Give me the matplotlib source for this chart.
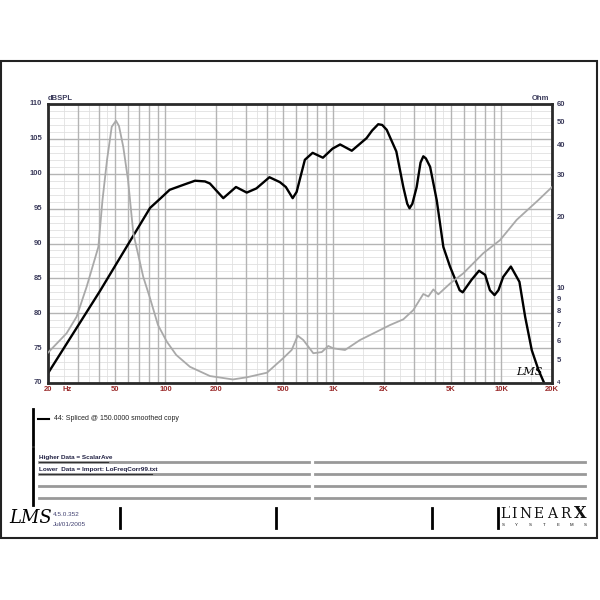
import matplotlib
matplotlib.use("Agg")
import matplotlib.pyplot as plt
from matplotlib.lines import Line2D
from matplotlib.patches import Rectangle
import numpy as np

# ---------------- data ----------------
spl_freq = [20, 40.8, 81, 92.8, 106, 131, 150, 172, 184, 221, 263, 305, 348, 416, 480, 521,
            572, 604, 676, 752, 866, 988, 1096, 1286, 1574, 1700, 1848, 1950, 2076, 2368, 2606,
            2750, 2838, 2950, 3130, 3300, 3428, 3550, 3762, 4120, 4512, 4940, 5640, 5880, 6640,
            7360, 8000, 8540, 9100, 9600, 10240, 11380, 12800, 13840, 15160, 16600, 17960, 18800]
spl_db = [71.4, 83.2, 95.1, 96.4, 97.7, 98.5, 99.0, 98.9, 98.6, 96.5, 98.1, 97.3, 97.9, 99.5,
          98.8, 98.1, 96.5, 97.4, 102.0, 103.0, 102.3, 103.6, 104.2, 103.3, 105.1, 106.2, 107.1,
          107.0, 106.3, 103.2, 98.1, 95.7, 95.05, 95.7, 98.1, 101.6, 102.5, 102.2, 101.0, 96.2,
          89.5, 86.7, 83.3, 83.0, 84.8, 86.1, 85.5, 83.3, 82.6, 83.3, 85.2, 86.7, 84.5, 79.5,
          74.7, 71.9, 70.0, 68.5]

imp_freq = [20, 25.8, 29.6, 34.0, 39.9, 42.2, 44.9, 47.9, 50.8, 52.9, 56.1, 59.9, 64.4, 73.8,
            80.9, 90.3, 102, 116, 140, 184, 252, 306, 402, 501, 564, 613, 662, 759, 852, 932,
            998, 1172, 1439, 1810, 2172, 2606, 2989, 3428, 3671, 3932, 4211, 4942, 5932, 7800,
            9806, 12332, 16572, 20000]
imp_ohm = [5.37, 6.48, 7.61, 10.2, 15.0, 23.6, 34.8, 48.1, 51.0, 48.5, 39.6, 28.7, 17.1, 11.2,
           9.13, 7.02, 5.97, 5.25, 4.68, 4.28, 4.14, 4.23, 4.42, 5.08, 5.51, 6.33, 6.07, 5.34,
           5.40, 5.73, 5.60, 5.51, 6.07, 6.58, 7.02, 7.42, 8.12, 9.49, 9.26, 9.92, 9.46, 10.5,
           11.6, 14.1, 16.0, 19.5, 23.6, 26.8]

x_ticks = [20, 50, 100, 200, 500, 1000, 2000, 5000, 10000, 20000]
x_labels = ["20", "50", "100", "200", "500", "1K", "2K", "5K", "10K", "20K"]
db_ticks = [70, 75, 80, 85, 90, 95, 100, 105, 110]
ohm_ticks = [4, 5, 6, 7, 8, 9, 10, 20, 30, 40, 50, 60]

# ---------------- figure ----------------
W = H = 600
fig = plt.figure(figsize=(6, 6), dpi=100)
fig.patch.set_facecolor("white")
plt.rcParams['font.family'] = ['Liberation Sans', 'DejaVu Sans']

def fx(x):
    return x / W

def fy(y):
    return 1 - y / H

L, R, T, B = 48, 552, 104, 383
ax = fig.add_axes([fx(L), fy(B), (R - L) / W, (B - T) / H])
ax.set_xscale("log")
ax.set_xlim(20, 20000)
ax.set_ylim(70, 110)
ax.set_facecolor("white")

# grid
major_v = []
minor_v = []
for dec in [10, 100, 1000, 10000]:
    for k in range(1, 10):
        f = k * dec
        if 20 <= f <= 20000:
            major_v.append(f)
    for k in [1.5, 2.5, 3.5, 4.5]:
        f = k * dec
        if 20 < f < 20000:
            minor_v.append(f)
for f in minor_v:
    ax.axvline(f, color="#e2e2e2", lw=0.6, zorder=0)
for f in major_v:
    ax.axvline(f, color="#b4b4b4", lw=1.0, zorder=0.5)
for d in range(70, 111):
    if d % 5:
        ax.axhline(d, color="#e0e0e0", lw=0.6, zorder=0)
    else:
        ax.axhline(d, color="#b4b4b4", lw=1.0, zorder=0.5)

ax.set_xticks([])
ax.set_yticks([])
ax.minorticks_off()
for s in ax.spines.values():
    s.set_linewidth(2.0)
    s.set_color("#2a2a2a")
    s.set_zorder(5)

ax2 = ax.twinx()
ax2.set_yscale("log")
ax2.set_ylim(4, 60)
ax2.set_yticks([])
ax2.minorticks_off()
ax2.set_yticks([], minor=True)
for s in ax2.spines.values():
    s.set_visible(False)

ax2.plot(imp_freq, imp_ohm, color="#a9a9a9", lw=1.3, zorder=3, clip_on=True,
         solid_joinstyle="round")
ax.plot(spl_freq, spl_db, color="black", lw=1.7, zorder=4, clip_on=True,
        solid_joinstyle="round")

# tick labels (as text using axis transforms)
tcol_x = "#9a2a2a"
tcol_y = "#3c3c5c"
for f, lab in zip(x_ticks, x_labels):
    ax.text(f, -0.025, lab, transform=ax.get_xaxis_transform(), ha="center", va="center",
            fontsize=5.5, color=tcol_x, fontweight="bold")
ax.text(24.5, -0.025, "Hz", transform=ax.get_xaxis_transform(), ha="left", va="center",
        fontsize=5.5, color=tcol_x, fontweight="bold")
for d in db_ticks:
    ax.text(-0.012, d, str(d), transform=ax.get_yaxis_transform(), ha="right", va="center",
            fontsize=5.5, color=tcol_y, fontweight="bold")
for o in ohm_ticks:
    fs = 4.5 if o == 4 else 5.5
    ax2.text(1.01, o, str(o), transform=ax2.get_yaxis_transform(), ha="left", va="center",
             fontsize=fs, color=tcol_y, fontweight="bold")
fig.text(fx(48), fy(98), "dBSPL", ha="left", va="center", fontsize=5.5, color=tcol_y,
         fontweight="bold")
fig.text(fx(549), fy(98), "Ohm", ha="right", va="center", fontsize=5.5, color=tcol_y,
         fontweight="bold")
# LMS watermark inside plot
ax.text(0.955, 0.04, "LMS", transform=ax.transAxes, ha="center", va="center", fontsize=8,
        style="italic", family="DejaVu Serif", color="black")

# ---------------- frame & page decorations ----------------
fig.add_artist(Rectangle((fx(1), fy(538)), (597 - 1) / W, (538 - 61) / H,
                         transform=fig.transFigure, fill=False, lw=1.5, ec="#222222"))

def fline(x0, y0, x1, y1, **kw):
    fig.add_artist(Line2D([fx(x0), fx(x1)], [fy(y0), fy(y1)], transform=fig.transFigure, **kw))

# legend block
fline(33, 409, 33, 445, color="black", lw=2)
fline(38, 419, 49, 419, color="black", lw=1.5)
fig.text(fx(54), fy(418), "44: Spliced @ 150.0000 smoothed copy", ha="left", va="center",
         fontsize=5, color="#222222")

# notes block
fline(33, 448, 33, 505, color="black", lw=2)
for yy in [461.7, 474, 486, 497.7]:
    fline(39, yy, 309, yy, color="#999999", lw=2)
    fline(315, yy, 585, yy, color="#999999", lw=2)
fig.text(fx(39), fy(459.5), "Higher Data = ScalarAve", ha="left", va="bottom", fontsize=4.6,
         color="#222244", fontweight="bold")
fline(39, 461.5, 108, 461.5, color="#333333", lw=0.8)
fig.text(fx(39), fy(471.8), "Lower  Data = Import: LoFreqCorr99.txt", ha="left", va="bottom",
         fontsize=4.6, color="#222244", fontweight="bold")
fline(39, 473.8, 152, 473.8, color="#333333", lw=0.8)

# footer
for xx in [120, 276, 432, 498]:
    fline(xx, 508, xx, 528, color="black", lw=2)
fig.text(fx(31), fy(518), "LMS", ha="center", va="center", fontsize=13, style="italic",
         family="DejaVu Serif", color="black")
fig.text(fx(53), fy(515), "4.5.0.352", ha="left", va="center", fontsize=4.6, color="#404070")
fig.text(fx(53), fy(525), "Jul/01/2005", ha="left", va="center", fontsize=4.6, color="#404070")

for ch, xc in zip("LINEAR", [505, 514, 525, 538, 552, 565]):
    fig.text(fx(xc), fy(514), ch, ha="center", va="center", fontsize=10,
             family="DejaVu Serif", color="#111111")
fig.text(fx(509), fy(509), "'", ha="center", va="center", fontsize=5, color="#111111")
fig.text(fx(580), fy(514), "X", ha="center", va="center", fontsize=11.5, fontweight="bold",
         family="DejaVu Serif", color="#111111")
for ch, xc in zip("SYSTEMS", np.linspace(503, 585, 7)):
    fig.text(fx(xc), fy(525), ch, ha="center", va="center", fontsize=3.2, color="#111111")

fig.savefig("out.png", dpi=100, facecolor="white")
